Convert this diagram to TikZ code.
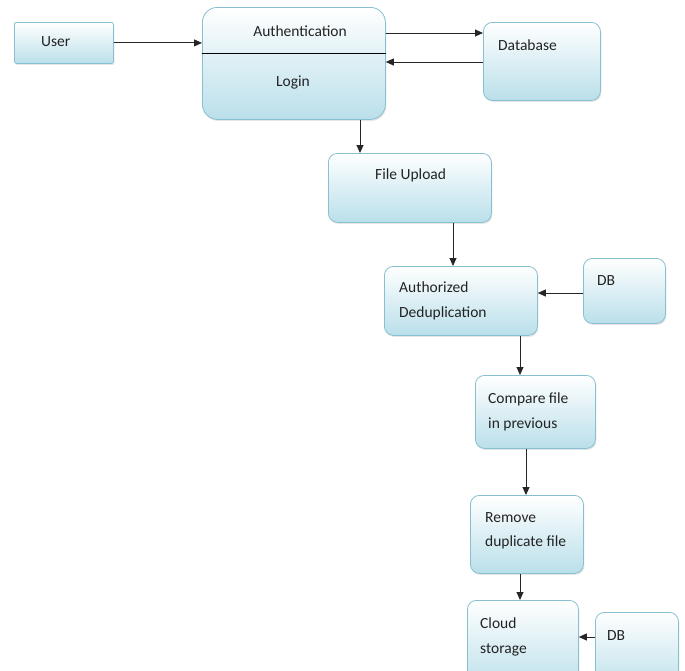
\documentclass[tikz,border=0pt]{standalone}
\usepackage{fontspec}
\setmainfont{Carlito}
\usetikzlibrary{arrows.meta,positioning,calc,shadows}
\definecolor{boxline}{RGB}{135,192,208}
\definecolor{boxfill}{RGB}{186,223,234}
\definecolor{txtgray}{RGB}{35,35,35}

\begin{document}
\begin{tikzpicture}[x=1pt,y=-1pt,font=\fontsize{15.5}{24.5}\selectfont]
    \tikzstyle{box}=[draw=boxline, line width=0.8pt, rounded corners=9pt, top color=white, bottom color=boxfill, drop shadow={opacity=0.2,shadow xshift=1pt,shadow yshift=-1.5pt}, anchor=north west, inner sep=0pt]
    \tikzstyle{txt}=[anchor=north west, align=left, inner sep=0pt, text=txtgray]
    \tikzstyle{arr}=[-{Triangle[length=8pt,width=7pt]}, line width=0.9pt, black!85]
    \useasboundingbox (0,0) rectangle (685,670);
    \clip (0,0) rectangle (685,670);
    % Login part
    \node[box, rounded corners=2pt, minimum width=99pt, minimum height=41pt] (user) at (14,22) {};
    \node[txt] (usertxt) at (41,36) {User};
    \node[box, rounded corners=15pt, minimum width=183pt, minimum height=112pt] (auth) at (202,7) {};
    \node[txt, anchor=north] (authtxt) at (300,26) {Authentication};
    \node[txt, anchor=north] (logintxt) at (293,76) {Login};
    \draw[line width=0.9pt] ($(auth.north west)+(0,46)$) -- ($(auth.north east)+(0,46)$);
    \node[box, minimum width=117pt, minimum height=78pt] (db) at (483,22) {};
    \node[txt] (dbtxt) at (498,40) {Database};
    \draw[arr] (user.east) -- (user.east -| auth.west);
    \coordinate (a1) at ($(auth.north east)+(0,26)$);
    \draw[arr] (a1) -- (a1 -| db.west);
    \coordinate (a2) at ($(db.north west)+(0,40)$);
    \draw[arr] (a2) -- (a2 -| auth.east);
    % Upload and deduplication
    \node[box, minimum width=163pt, minimum height=69pt] (up) at (328,153) {};
    \node[txt] (uptxt) at (375,169) {File Upload};
    \node[box, minimum width=153pt, minimum height=69pt] (dedup) at (384,266) {};
    \node[txt] (deduptxt) at (399,282) {Authorized\\Deduplication};
    \node[box, minimum width=82pt, minimum height=65pt] (db1) at (583,258) {};
    \node[txt] (db1txt) at (597,275) {DB};
    \coordinate (a3) at ($(auth.south west)+(158,0)$);
    \draw[arr] (a3) -- (a3 |- up.north);
    \coordinate (a4) at ($(up.south west)+(125,0)$);
    \draw[arr] (a4) -- (a4 |- dedup.north);
    \coordinate (a5) at ($(db1.north west)+(0,35)$);
    \draw[arr] (a5) -- (a5 -| dedup.east);
    % Compare, remove, store
    \node[box, minimum width=120pt, minimum height=73pt] (cmp) at (475,375) {};
    \node[txt] (cmptxt) at (488,393) {Compare file\\in previous};
    \node[box, minimum width=113pt, minimum height=78pt] (rem) at (470,495) {};
    \node[txt] (remtxt) at (485,512) {Remove\\duplicate file};
    \node[box, minimum width=111pt, minimum height=90pt] (cloud) at (467,600) {};
    \node[txt] (cloudtxt) at (480,618) {Cloud\\storage};
    \node[box, minimum width=83pt, minimum height=80pt] (db2) at (595,612) {};
    \node[txt] (db2txt) at (607,630) {DB};
    \coordinate (a6) at ($(dedup.south west)+(136,0)$);
    \draw[arr] (a6) -- (a6 |- cmp.north);
    \coordinate (a7) at ($(cmp.south west)+(51,0)$);
    \draw[arr] (a7) -- (a7 |- rem.north);
    \coordinate (a8) at ($(rem.south west)+(50,0)$);
    \draw[arr] (a8) -- (a8 |- cloud.north);
    \coordinate (a9) at ($(db2.north west)+(0,25)$);
    \draw[arr] (a9) -- (a9 -| cloud.east);
\end{tikzpicture}
\end{document}
